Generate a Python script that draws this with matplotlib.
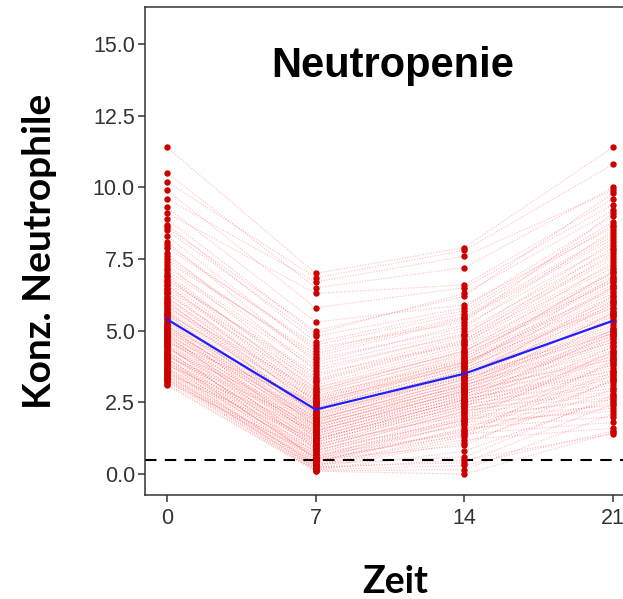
import matplotlib
matplotlib.use("Agg")
import matplotlib.pyplot as plt

# ---------------- data ----------------
times = [0, 7, 14, 21]
time_labels = ["0", "7", "14", "21"]
y_ticks = [0.0, 2.5, 5.0, 7.5, 10.0, 12.5, 15.0]
y_tick_labels = ["0.0", "2.5", "5.0", "7.5", "10.0", "12.5", "15.0"]

day0 = [11.4, 10.5, 10.2, 9.9, 9.6, 9.3, 9.1, 8.9, 8.7, 8.5,
        8.3, 8.1, 7.9, 7.7, 7.5, 7.3, 7.2, 7.0, 6.9, 6.8,
        6.7, 6.6, 6.5, 6.4, 6.3, 6.2, 6.1, 6.0, 5.9, 5.8,
        5.75, 5.7, 5.6, 5.55, 5.5, 5.4, 5.35, 5.3, 5.2, 5.15,
        5.1, 5.05, 5.0, 4.95, 4.9, 4.85, 4.8, 4.75, 4.7, 4.65,
        4.6, 4.55, 4.5, 4.45, 4.4, 4.35, 4.3, 4.25, 4.2, 4.15,
        4.1, 4.05, 4.0, 3.95, 3.9, 3.85, 3.8, 3.75, 3.7, 3.65,
        3.6, 3.55, 3.5, 3.45, 3.4, 3.35, 3.3, 3.25, 3.2, 3.1,
        8.6, 8.0, 7.6, 7.1, 6.75, 6.45, 6.15, 5.95, 5.65, 5.45,
        5.25, 5.0, 4.8, 4.6, 4.45, 4.3, 4.15, 4.0, 3.85, 3.7,
        3.5, 3.3, 3.15, 6.9, 6.3, 5.85, 5.1, 4.7, 4.2, 3.9,
        7.4, 6.6, 6.05, 5.6, 5.2, 4.9, 4.5, 3.6, 3.4, 4.05]

day7 = [7.0, 6.5, 6.85, 5.8, 6.7, 5.3, 6.3, 4.9, 4.6, 4.8,
        4.3, 3.9, 4.5, 3.6, 4.1, 3.3, 3.8, 3.1, 2.9, 3.4,
        3.0, 2.7, 3.2, 2.5, 2.8, 2.3, 2.6, 2.4, 2.1, 2.9,
        2.2, 1.9, 2.6, 2.0, 1.8, 2.3, 1.7, 2.1, 1.6, 2.4,
        1.9, 1.5, 2.2, 1.4, 1.8, 2.0, 1.3, 1.7, 1.2, 1.6,
        2.5, 1.1, 1.5, 1.0, 1.4, 1.9, 0.9, 1.3, 0.8, 1.2,
        1.7, 0.7, 1.1, 0.6, 1.0, 0.5, 1.5, 0.4, 0.9, 0.35,
        0.8, 0.3, 1.2, 0.25, 0.6, 0.2, 0.45, 0.15, 0.7, 0.1,
        5.0, 4.4, 4.0, 3.7, 3.5, 3.0, 2.75, 2.55, 2.35, 2.15,
        1.95, 1.75, 1.55, 1.35, 1.15, 0.95, 0.75, 0.55, 0.45, 0.3,
        0.2, 0.15, 0.12, 3.25, 2.65, 2.45, 1.85, 1.45, 1.05, 0.65,
        4.2, 2.85, 2.05, 1.65, 1.25, 0.85, 0.5, 0.35, 0.25, 0.55]

day14 = [7.9, 7.2, 7.8, 6.5, 7.6, 5.9, 6.6, 6.3, 5.7, 5.8,
         5.5, 5.2, 5.6, 4.9, 5.4, 4.7, 5.0, 4.5, 4.3, 4.8,
         4.4, 4.1, 4.6, 3.9, 4.2, 3.7, 4.0, 3.8, 3.5, 4.3,
         3.6, 3.3, 3.9, 3.4, 3.2, 3.7, 3.1, 3.5, 3.0, 3.8,
         3.3, 2.9, 3.6, 2.8, 3.2, 3.4, 2.7, 3.1, 2.6, 3.0,
         3.9, 2.5, 2.9, 2.4, 2.8, 3.3, 2.3, 2.7, 2.2, 2.6,
         3.1, 2.1, 2.5, 2.0, 2.4, 1.9, 2.9, 1.8, 2.3, 1.6,
         2.2, 1.4, 2.6, 1.2, 1.9, 0.5, 1.5, 0.3, 1.7, 0.0,
         6.2, 5.3, 5.1, 4.85, 4.55, 4.25, 3.95, 3.75, 3.55, 3.35,
         3.15, 2.95, 2.75, 2.55, 2.35, 2.15, 1.95, 1.75, 1.55, 1.3,
         1.1, 0.8, 0.15, 4.65, 4.05, 3.85, 3.05, 2.65, 2.05, 1.45,
         5.45, 4.15, 3.45, 2.85, 2.45, 1.85, 1.0, 0.6, 0.4, 1.35]

day21 = [11.4, 10.0, 10.8, 9.4, 9.9, 8.6, 9.6, 9.2, 8.8, 9.0,
         8.4, 8.0, 8.7, 7.6, 8.2, 7.3, 7.8, 7.0, 6.7, 7.5,
         6.9, 6.4, 7.2, 6.1, 6.6, 5.8, 6.3, 6.0, 5.5, 6.8,
         5.7, 5.2, 6.2, 5.4, 5.0, 5.9, 4.8, 5.6, 4.6, 6.5,
         5.1, 4.4, 5.3, 4.2, 4.9, 5.0, 4.0, 4.7, 3.8, 4.5,
         5.8, 3.6, 4.3, 3.4, 4.1, 4.9, 3.2, 3.9, 3.0, 3.7,
         4.6, 2.8, 3.5, 2.6, 3.3, 2.4, 4.0, 2.2, 3.1, 2.0,
         2.9, 1.8, 3.6, 1.6, 2.7, 1.4, 2.5, 1.5, 2.3, 1.45,
         9.8, 9.1, 8.5, 8.1, 7.7, 7.4, 7.1, 6.85, 6.5, 6.2,
         5.95, 5.65, 5.35, 5.05, 4.75, 4.45, 4.15, 3.85, 3.55, 3.25,
         2.95, 2.65, 2.1, 7.9, 7.05, 6.55, 5.6, 4.85, 4.25, 3.45,
         8.3, 6.75, 6.05, 5.5, 4.95, 4.3, 3.3, 2.75, 2.45, 3.95]

mean_values = [5.4, 2.25, 3.5, 5.35]
threshold = 0.5

title_text = "Neutropenie"
x_label = "Zeit"
y_label = "Konz. Neutrophile"

# ---------------- figure ----------------
W, H = 623, 599
fig = plt.figure(figsize=(W / 100, H / 100), dpi=100)
fig.patch.set_facecolor("white")

# axes frame: left 144.6px, right 635.4px (beyond image), top 7px, bottom 495px
ax = fig.add_axes([144.6 / W, (H - 495) / H, (635.4 - 144.6) / W, (495 - 7) / H])
ax.set_xlim(-1.05, 22.05)
ax.set_ylim(-0.73, 16.29)

series = [day0, day7, day14, day21]
n_subj = len(day0)

# individual trajectories (dotted, faint red)
for i in range(n_subj):
    ax.plot(times, [s[i] for s in series], color="#ff2a2a", alpha=0.3,
            lw=0.8, ls=(0, (1, 1.4)), zorder=1)

# points
for t, s in zip(times, series):
    ax.plot([t] * len(s), s, ls="none", marker="o", ms=4.6,
            mfc="#cc0000", mec="#cc0000", mew=0, zorder=3)

# threshold line
ax.axhline(threshold, color="black", lw=1.5, ls=(0, (5.5, 4)), zorder=2)

# mean line
ax.plot(times, mean_values, color="#1f1fff", lw=1.6, zorder=4)

# title inside panel
ax.text(0.506, 0.8566, title_text, transform=ax.transAxes, ha="center",
        va="baseline", fontsize=30, fontweight="bold",
        family=["Liberation Sans", "DejaVu Sans"], color="black")

# ticks
ax.set_xticks(times)
ax.set_xticklabels(time_labels)
ax.set_yticks(y_ticks)
ax.set_yticklabels(y_tick_labels)
for lab in ax.get_xticklabels() + ax.get_yticklabels():
    lab.set_family(["Liberation Sans", "DejaVu Sans"])
    lab.set_fontsize(15.5)
    lab.set_color("#333333")
ax.tick_params(axis="both", direction="out", length=5, width=1.1,
               color="#333333")
ax.tick_params(axis="y", pad=2)
ax.tick_params(axis="x", pad=4)

for sp in ax.spines.values():
    sp.set_color("#333333")
    sp.set_linewidth(1.1)

# axis labels as figure text
fig.text(395 / W, 1 - 593 / H, x_label, ha="center", va="baseline",
         fontsize=27, fontweight="bold", family=["Lato", "DejaVu Sans"])
fig.text(40 / W, 1 - 251.5 / H, y_label, ha="center", va="center",
         rotation=90, fontsize=28, fontweight="bold",
         family=["Lato", "DejaVu Sans"])

fig.savefig("out.png", dpi=100, facecolor="white")
